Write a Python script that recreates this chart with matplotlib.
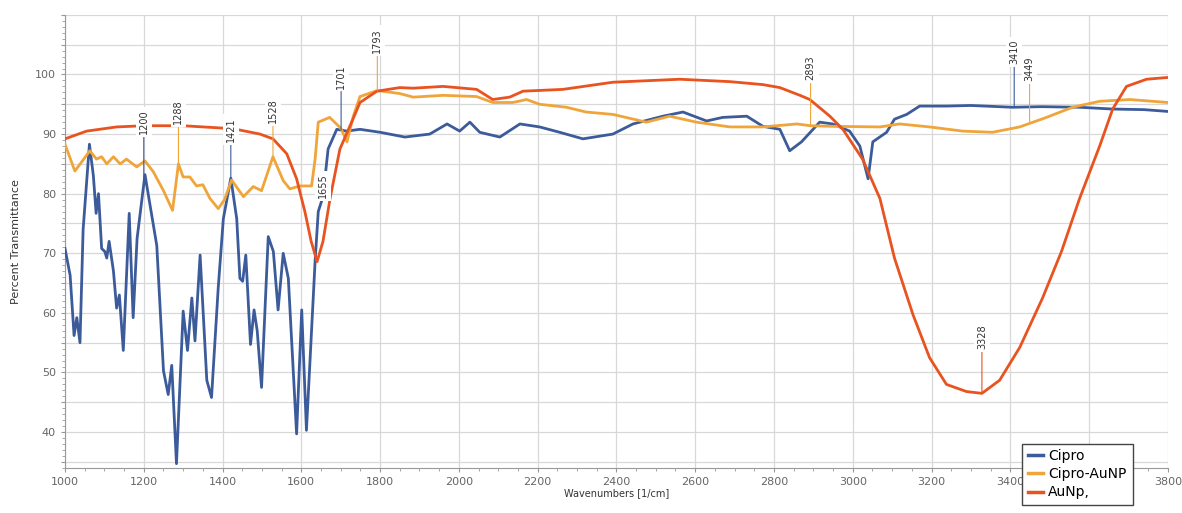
import numpy as np
import matplotlib
matplotlib.use('Agg')
import matplotlib.pyplot as plt
from matplotlib.ticker import MultipleLocator, FuncFormatter

# FTIR spectra: wavenumber [1/cm] vs percent transmittance
wn_cipro = [1000, 1013, 1023, 1030, 1038, 1046, 1062, 1072, 1079, 1085, 1093, 1101,
            1106, 1112, 1123, 1131, 1138, 1148, 1163, 1173, 1183, 1203, 1233, 1250,
            1262, 1271, 1283, 1300, 1311, 1322, 1330, 1343, 1360, 1372, 1389, 1402,
            1421, 1436, 1444, 1451, 1459, 1471, 1480, 1488, 1499, 1516, 1529, 1541,
            1554, 1567, 1588, 1601, 1613, 1635, 1643, 1655, 1668, 1690, 1715, 1749,
            1800, 1863, 1926, 1970, 2002, 2028, 2053, 2104, 2155, 2205, 2256, 2315,
            2391, 2442, 2518, 2569, 2629, 2670, 2731, 2772, 2815, 2840, 2870, 2916,
            2949, 2992, 3018, 3039, 3051, 3086, 3106, 3137, 3170, 3238, 3300, 3406,
            3480, 3576, 3660, 3740, 3800]
t_cipro = [70.8, 66.3, 56.2, 59.2, 55.0, 74.0, 88.3, 83.0, 76.7, 80.0, 70.8, 70.3,
           69.2, 72.0, 67.0, 60.8, 63.0, 53.7, 76.7, 59.2, 72.5, 83.2, 71.3, 50.3,
           46.3, 51.2, 34.7, 60.3, 53.7, 62.5, 55.3, 69.7, 48.7, 45.8, 64.2, 75.8,
           82.6, 75.8, 65.8, 65.3, 69.7, 54.7, 60.5, 57.0, 47.5, 72.8, 70.3, 60.5,
           70.0, 65.8, 39.7, 60.5, 40.3, 68.7, 77.0, 79.5, 87.5, 90.8, 90.5, 90.8,
           90.3, 89.5, 90.0, 91.7, 90.5, 92.0, 90.3, 89.5, 91.7, 91.2, 90.3, 89.2,
           90.0, 91.7, 93.0, 93.7, 92.2, 92.8, 93.0, 91.3, 90.8, 87.2, 88.7, 92.0,
           91.7, 90.5, 88.0, 82.5, 88.7, 90.3, 92.5, 93.3, 94.7, 94.7, 94.8, 94.5,
           94.6, 94.5, 94.2, 94.1, 93.8]

wn_cipro_au = [1000, 1025, 1042, 1063, 1080, 1093, 1106, 1123, 1140, 1156, 1182, 1203,
               1224, 1250, 1273, 1288, 1300, 1317, 1334, 1350, 1368, 1389, 1405, 1423,
               1453, 1478, 1499, 1528, 1554, 1571, 1596, 1626, 1635, 1643, 1672, 1700,
               1716, 1732, 1749, 1793, 1850, 1884, 1960, 2045, 2086, 2137, 2172, 2205,
               2273, 2323, 2391, 2476, 2535, 2603, 2688, 2772, 2858, 2893, 2950, 3069,
               3119, 3195, 3279, 3355, 3424, 3492, 3558, 3627, 3703, 3800]
t_cipro_au = [88.3, 83.8, 85.3, 87.2, 85.8, 86.2, 85.0, 86.2, 85.0, 85.8, 84.5, 85.5,
              83.7, 80.5, 77.2, 85.0, 82.8, 82.8, 81.3, 81.5, 79.2, 77.5, 79.0, 82.3,
              79.5, 81.2, 80.5, 86.2, 82.2, 80.8, 81.3, 81.3, 85.8, 92.0, 92.8, 91.0,
              88.7, 93.0, 96.3, 97.3, 96.8, 96.2, 96.5, 96.3, 95.3, 95.3, 95.8, 95.0,
              94.5, 93.7, 93.3, 92.0, 93.0, 92.0, 91.2, 91.2, 91.7, 91.4, 91.3, 91.2,
              91.7, 91.2, 90.5, 90.3, 91.2, 92.8, 94.5, 95.5, 95.8, 95.3]

wn_au = [1000, 1055, 1131, 1200, 1300, 1427, 1495, 1528, 1563, 1588, 1609, 1625,
         1640, 1655, 1673, 1698, 1731, 1749, 1792, 1850, 1884, 1960, 2045, 2086,
         2129, 2163, 2264, 2391, 2561, 2688, 2772, 2815, 2866, 2891, 2942, 2975,
         3025, 3069, 3106, 3153, 3195, 3238, 3289, 3328, 3373, 3424, 3482, 3530,
         3576, 3627, 3660, 3695, 3746, 3800]
t_au = [89.2, 90.5, 91.2, 91.4, 91.4, 90.9, 90.0, 89.2, 86.7, 82.5, 77.0, 72.0,
        68.6, 72.0, 79.2, 87.5, 92.5, 95.3, 97.2, 97.8, 97.7, 98.0, 97.5, 95.8,
        96.2, 97.2, 97.5, 98.7, 99.2, 98.8, 98.3, 97.8, 96.5, 95.8, 93.0, 90.8,
        85.8, 79.2, 69.2, 59.7, 52.5, 48.0, 46.8, 46.5, 48.7, 54.2, 62.5, 70.3,
        79.2, 88.0, 94.2, 98.0, 99.2, 99.5]

# peak labels: (wavenumber, series, label height)
peak_wn = [1200, 1288, 1421, 1528, 1655, 1701, 1793, 2893, 3410, 3449, 3328]
peak_series = ['Cipro', 'Cipro-AuNP', 'Cipro', 'Cipro-AuNP', 'Cipro', 'Cipro',
               'Cipro-AuNP', 'Cipro-AuNP', 'Cipro', 'Cipro-AuNP', 'AuNp,']
peak_text_y = [92.0, 93.8, 90.8, 94.0, 81.3, 99.7, 105.7, 101.2, 103.8, 101.0, 56.0]

series = {
    'Cipro': (wn_cipro, t_cipro, '#3c5b9b'),
    'Cipro-AuNP': (wn_cipro_au, t_cipro_au, '#f0a53a'),
    'AuNp,': (wn_au, t_au, '#e8531f'),
}

fig = plt.figure(figsize=(11.82, 5.13), dpi=100)
ax = fig.add_axes([0.055, 0.088, 0.933, 0.883])

handles = []
for name, (x, y, c) in series.items():
    h, = ax.plot(x, y, color=c, lw=2.0, label=name, zorder=3)
    handles.append(h)

for wn, s, ty in zip(peak_wn, peak_series, peak_text_y):
    x, y, c = series[s]
    yv = np.interp(wn, x, y)
    ax.annotate(str(wn), xy=(wn, yv), xytext=(wn, ty), rotation=90,
                ha='center', va='center', fontsize=7, color='#333333',
                bbox=dict(boxstyle='square,pad=0.3', fc='white', ec='none'),
                arrowprops=dict(arrowstyle='-', color=c, lw=0.8,
                                shrinkA=0, shrinkB=0),
                zorder=5)

ax.set_xlim(1000, 3800)
ax.set_ylim(34, 110)
ax.xaxis.set_major_locator(MultipleLocator(200))
ax.xaxis.set_minor_locator(MultipleLocator(50))
# the 3600 label sits under the legend box
ax.xaxis.set_major_formatter(FuncFormatter(
    lambda v, p: '' if v == 3600 else '%d' % v))
ax.yaxis.set_major_locator(MultipleLocator(5))
ax.yaxis.set_minor_locator(MultipleLocator(1))
ax.yaxis.set_major_formatter(FuncFormatter(
    lambda v, p: '%d' % v if v % 10 == 0 and v <= 100 else ''))
ax.grid(True, which='major', color='#d8d8d8', lw=0.9)
ax.set_axisbelow(True)

for sp in ['top', 'right']:
    ax.spines[sp].set_visible(False)
for sp in ['left', 'bottom']:
    ax.spines[sp].set_color('#999999')
ax.tick_params(which='both', colors='#999999', labelcolor='#666666',
               labelsize=8, direction='out')
ax.tick_params(which='major', length=3)
ax.tick_params(which='minor', length=2)

ax.set_xlabel('Wavenumbers [1/cm]', fontsize=7, color='#333333', labelpad=1)
ax.set_ylabel('Percent Transmittance', fontsize=8, color='#333333', labelpad=10)

leg = fig.legend(handles=handles, loc='lower left',
                 bbox_to_anchor=(0.868, -0.082, 0.1, 0.183),
                 bbox_transform=ax.transAxes,
                 mode='expand', fontsize=10, frameon=True, fancybox=False,
                 framealpha=1.0, handlelength=1.1, handletextpad=0.35,
                 borderaxespad=0, labelspacing=0.3, borderpad=0.4)
leg.get_frame().set_edgecolor('#444444')
leg.get_frame().set_linewidth(1.0)
for line in leg.get_lines():
    line.set_linewidth(2.5)

fig.savefig('out.png', dpi=100)
